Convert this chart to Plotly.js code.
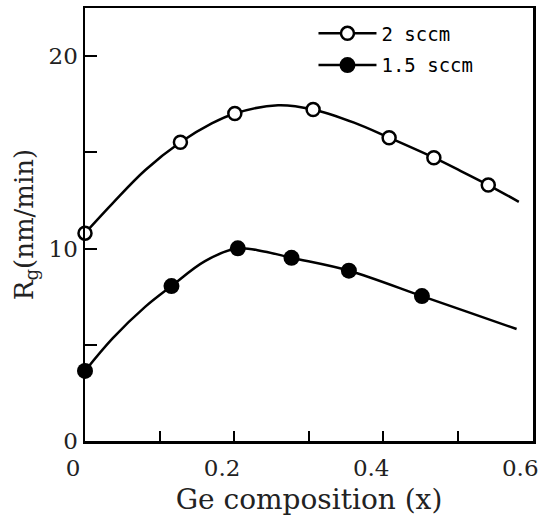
<!DOCTYPE html>
<html>
<head>
<meta charset="utf-8">
<script src="https://cdn.plot.ly/plotly-3.0.1.min.js"></script>
<style>html,body{margin:0;padding:0;background:#fff;}#chart{width:541px;height:518px;}</style>
</head>
<body>
<div id="chart"></div>
<script>
// Measured points
const x2sccm = [0, 0.128, 0.201, 0.306, 0.408, 0.468, 0.541];
const y2sccm = [10.8, 15.52, 17.02, 17.23, 15.76, 14.72, 13.3];
const x15sccm = [0, 0.116, 0.205, 0.277, 0.354, 0.452];
const y15sccm = [3.64, 8.05, 10.01, 9.52, 8.85, 7.53];

// Smooth guide curves
const fitX2 = [0, 0.037, 0.081, 0.128, 0.170, 0.201, 0.259, 0.306, 0.361, 0.408, 0.468, 0.503, 0.541, 0.582];
const fitY2 = [10.8, 12.35, 14.08, 15.52, 16.5, 17.02, 17.45, 17.23, 16.54, 15.76, 14.72, 14.05, 13.3, 12.43];
const fitX15 = [0, 0.037, 0.081, 0.116, 0.161, 0.205, 0.24, 0.277, 0.354, 0.452, 0.512, 0.579];
const fitY15 = [3.64, 5.33, 6.98, 8.05, 9.35, 10.01, 9.85, 9.52, 8.85, 7.53, 6.72, 5.82];

const seriesNames = ['2 sccm', '1.5 sccm'];
const xTitle = 'Ge composition (x)';
const yTitle = 'R<sub>g</sub>(nm/min)';

const lineStyle = {color: '#000', width: 2.5, shape: 'spline', smoothing: 1};
const openMarker = {symbol: 'circle', size: 13, color: '#fff', line: {color: '#000', width: 2.5}};
const fullMarker = {symbol: 'circle', size: 16, color: '#000', line: {color: '#000', width: 0}};

const traces = [
  {x: fitX2, y: fitY2, mode: 'lines', line: lineStyle, showlegend: false, hoverinfo: 'skip', cliponaxis: false},
  {x: fitX15, y: fitY15, mode: 'lines', line: lineStyle, showlegend: false, hoverinfo: 'skip', cliponaxis: false},
  {x: x2sccm, y: y2sccm, mode: 'markers', marker: openMarker, showlegend: false, cliponaxis: false},
  {x: x15sccm, y: y15sccm, mode: 'markers', marker: fullMarker, showlegend: false, cliponaxis: false},
  // legend entries (no data drawn)
  {x: [null], y: [null], mode: 'lines+markers', name: seriesNames[0], legendgroup: 'a', line: {color: '#000', width: 2.5}, marker: openMarker},
  {x: [null], y: [null], mode: 'lines+markers', name: seriesNames[1], legendgroup: 'b', line: {color: '#000', width: 2.5}, marker: fullMarker}
];

const axisCommon = {
  showgrid: false, zeroline: false, showline: true, linecolor: '#000', linewidth: 2.5, mirror: true,
  ticks: 'inside', tickwidth: 2, tickcolor: '#000',
  tickfont: {family: 'DejaVu Serif', size: 23, color: '#222'}
};

const layout = {
  width: 541, height: 518,
  margin: {l: 85, r: 8, t: 8, b: 77},
  paper_bgcolor: '#fff', plot_bgcolor: '#fff',
  font: {family: 'DejaVu Serif', color: '#000'},
  xaxis: Object.assign({}, axisCommon, {
    range: [0, 0.601], tick0: 0, dtick: 0.2, ticklen: 10,
    ticklabelshift: -12, ticklabelstandoff: 5, ticklabeloverflow: 'allow',
    minor: {dtick: 0.1, ticks: 'inside', ticklen: 10, tickwidth: 2, tickcolor: '#000', showgrid: false},
    title: {text: xTitle, font: {family: 'DejaVu Serif', size: 28, color: '#222'}, standoff: 10}
  }),
  yaxis: Object.assign({}, axisCommon, {
    range: [0, 22.5], tick0: 0, dtick: 10, ticklen: 12,
    minor: {dtick: 5, ticks: 'inside', ticklen: 12, tickwidth: 2, tickcolor: '#000', showgrid: false},
    title: {text: yTitle, font: {family: 'DejaVu Serif', size: 26, color: '#222'}, standoff: 8}
  }),
  legend: {
    x: 0.51, y: 0.985, xanchor: 'left', yanchor: 'top',
    bgcolor: 'rgba(0,0,0,0)', borderwidth: 0,
    itemwidth: 58, traceorder: 'grouped', tracegroupgap: 4,
    font: {family: 'DejaVu Sans Mono', size: 19, color: '#000'}
  },
  showlegend: true
};

Plotly.newPlot('chart', traces, layout, {displayModeBar: false, staticPlot: true});
</script>
</body>
</html>
